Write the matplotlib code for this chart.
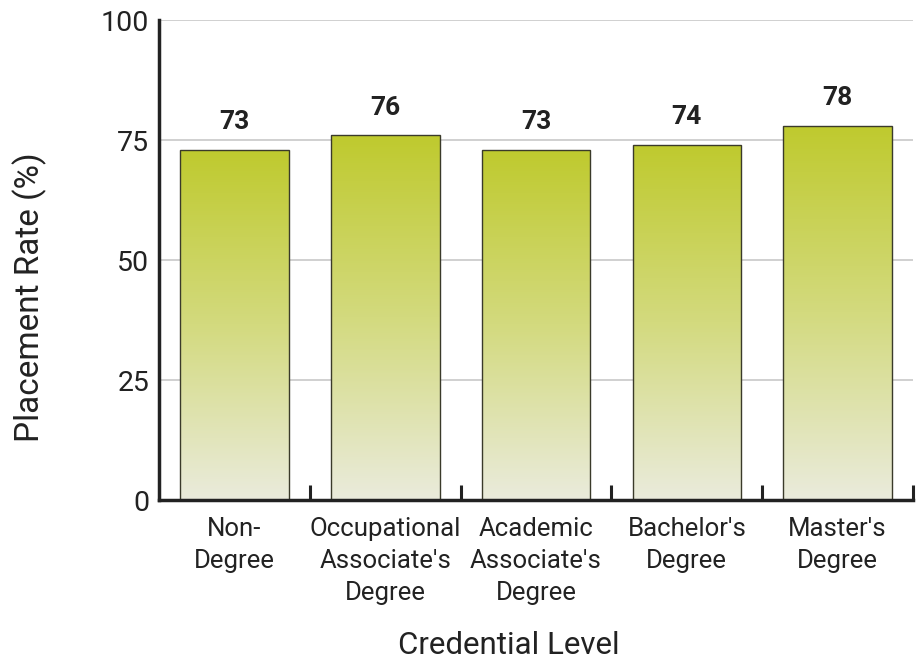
import numpy as np
import matplotlib.pyplot as plt
from matplotlib.colors import LinearSegmentedColormap

plt.rcParams['font.family'] = ['Roboto', 'Liberation Sans', 'DejaVu Sans']

# data
categories = ["Non-\nDegree", "Occupational\nAssociate's\nDegree", "Academic\nAssociate's\nDegree",
              "Bachelor's\nDegree", "Master's\nDegree"]
rates = [73, 76, 73, 74, 78]

fig = plt.figure(figsize=(9.18, 6.58), dpi=100)
ax = fig.add_axes([0.1732, 0.2401, 0.8214, 0.7295])

x = np.arange(len(categories))
bars = ax.bar(x, rates, width=0.72, color='none', edgecolor='#3a3a2a', linewidth=1.0, zorder=3)

# vertical gradient inside each bar
cmap = LinearSegmentedColormap.from_list('grad', ['#eaebdc', '#d3da7e', '#bfca2e'])
grad = np.linspace(0, 1, 256).reshape(-1, 1)
for b in bars:
    x0, w, h = b.get_x(), b.get_width(), b.get_height()
    im = ax.imshow(grad, cmap=cmap, aspect='auto', origin='lower',
                   extent=[x0, x0 + w, 0, h], zorder=2)
    im.set_clip_path(b)

# value labels
for xi, v in zip(x, rates):
    ax.text(xi, v + 3.2, str(v), ha='center', va='bottom', fontsize=19,
            fontweight='bold', color='#222222')

ax.set_xlim(-0.5, len(categories) - 0.5)
ax.set_ylim(0, 100)
ax.set_yticks([0, 25, 50, 75, 100])
ax.yaxis.grid(True, color='#c8c8c8', linewidth=1.2, zorder=0)
ax.set_axisbelow(True)

ax.set_xticks(x)
ax.set_xticklabels(categories, fontsize=18.5, color='#222222', linespacing=1.42)
ax.tick_params(axis='x', which='major', length=0, pad=12)
ax.set_xticks(np.arange(len(categories)) + 0.5, minor=True)
ax.tick_params(axis='x', which='minor', direction='in', length=11, width=2.2, color='#222222')
ax.tick_params(axis='y', length=0, labelsize=20.5, labelcolor='#222222', pad=7)

for s in ['top', 'right']:
    ax.spines[s].set_visible(False)
for s in ['left', 'bottom']:
    ax.spines[s].set_linewidth(2.5)
    ax.spines[s].set_color('#222222')
    ax.spines[s].set_zorder(4)

ax.set_ylabel('Placement Rate (%)', fontsize=24, color='#222222')
ax.yaxis.set_label_coords(-0.149, 0.423)
ax.set_xlabel('Credential Level', fontsize=22.5, color='#222222')
ax.xaxis.set_label_coords(0.464, -0.272)

fig.savefig('out.png', dpi=100)
